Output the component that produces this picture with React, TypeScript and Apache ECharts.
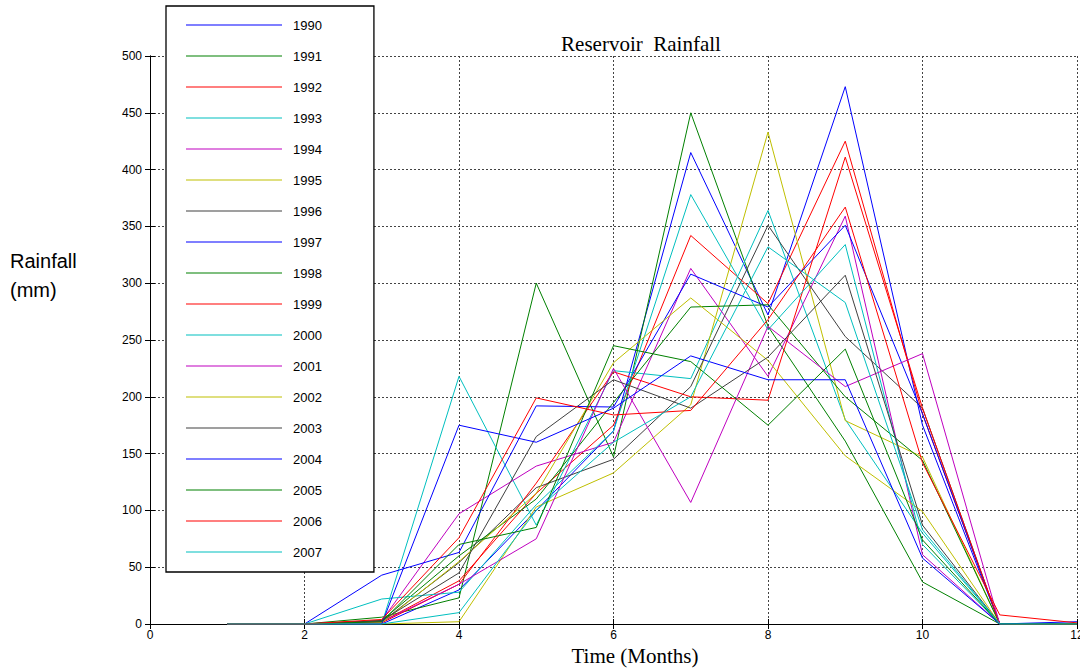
import React, { useEffect, useRef } from "react";
import * as echarts from "echarts";

const months = [1, 2, 3, 4, 5, 6, 7, 8, 9, 10, 11, 12];
const years = ["1990","1991","1992","1993","1994","1995","1996","1997","1998","1999","2000","2001","2002","2003","2004","2005","2006","2007"];
const xTicks = [0, 2, 4, 6, 8, 10, 12];
const yTicks = [0, 50, 100, 150, 200, 250, 300, 350, 400, 450, 500];

const r1990 = [0, 0, 0, 30, 100, 170, 415, 272, 473, 175, 0, 0];
const r1991 = [0, 0, 6, 23, 300, 147, 450, 262, 161, 37, 0, 0];
const r1992 = [0, 0, 2, 38, 115, 175, 342, 282, 425, 185, 0, 0];
const r1993 = [0, 0, 0, 218, 87, 223, 216, 364, 180, 80, 0, 0];
const r1994 = [0, 0, 3, 97, 139, 160, 313, 218, 359, 61, 0, 0];
const r1995 = [0, 0, 0, 2, 103, 133, 193, 433, 179, 147, 0, 0];
const r1996 = [0, 0, 2, 54, 120, 145, 209, 351, 253, 190, 0, 0];
const r1997 = [0, 0, 43, 63, 192, 191, 308, 279, 351, 185, 0, 0];
const r1998 = [0, 0, 3, 60, 110, 195, 279, 281, 200, 144, 0, 0];
const r1999 = [0, 0, 1, 35, 124, 222, 200, 197, 411, 190, 0, 0];
const r2000 = [0, 0, 22, 28, 105, 170, 378, 259, 334, 70, 0, 0];
const r2001 = [0, 0, 2, 35, 75, 225, 107, 262, 209, 238, 0, 0];
const r2002 = [0, 0, 1, 55, 115, 230, 287, 232, 148, 99, 0, 0];
const r2003 = [0, 0, 3, 45, 165, 215, 190, 235, 307, 87, 0, 0];
const r2004 = [0, 0, 0, 175, 160, 190, 236, 215, 215, 58, 0, 2];
const r2005 = [0, 0, 2, 70, 85, 245, 231, 175, 242, 74, 0, 0];
const r2006 = [0, 0, 4, 76, 199, 184, 188, 268, 367, 142, 8, 1];
const r2007 = [0, 0, 0, 10, 100, 160, 200, 332, 283, 83, 0, 0];

const allRain = [r1990, r1991, r1992, r1993, r1994, r1995, r1996, r1997, r1998, r1999, r2000, r2001, r2002, r2003, r2004, r2005, r2006, r2007];
const palette = ["#0000ff", "#008000", "#ff0000", "#00bfbf", "#bf00bf", "#bfbf00", "#404040"];

const SANS = "'Liberation Sans', Arial, sans-serif";
const SERIF = "'Liberation Serif', 'Times New Roman', serif";

export default function App() {
  const ref = useRef<HTMLDivElement>(null);
  useEffect(() => {
    if (!ref.current) return;
    const chart = echarts.init(ref.current, null, { renderer: "svg" });
    const series = years.map((y, i) => ({
      name: y,
      type: "line",
      data: months.map((m, j) => [m, allRain[i][j]]),
      symbol: "none",
      lineStyle: { width: 1, color: palette[i % 7] },
      itemStyle: { color: palette[i % 7] },
      z: 2,
    }));
    const axisCommon = {
      axisLine: { show: true, lineStyle: { color: "#000", width: 1 } },
      axisTick: { show: true, inside: true, length: 5, lineStyle: { color: "#000" } },
    };
    const gridLine = { show: true, lineStyle: { color: "#444", type: [2, 2], width: 1 } };
    chart.setOption({
      animation: false,
      backgroundColor: "#fff",
      grid: { left: 150, right: 3, top: 56, bottom: 44, show: false, outerBoundsMode: "none", containLabel: false },
      legend: {
        show: true,
        orient: "vertical",
        left: 166,
        top: 6,
        data: years,
        icon: "rect",
        itemWidth: 96,
        itemHeight: 1,
        itemGap: 17,
        itemTextGap: 10,
        padding: [12, 52, 13, 20],
        backgroundColor: "#fff",
        borderColor: "#000",
        borderWidth: 1.3,
        textStyle: { fontSize: 13, fontFamily: SANS, color: "#000", lineHeight: 14, padding: [0, 0, 0, 6] },
        selectedMode: false,
        z: 10,
      },
      xAxis: [
        {
          type: "value",
          min: 0,
          max: 12,
          interval: 2,
          ...axisCommon,
          axisLabel: { fontSize: 12, fontFamily: SANS, color: "#000", margin: 5,
            formatter: (v: number) => (xTicks.includes(v) ? String(v) : "") },
          splitLine: gridLine,
        },
        {
          type: "value",
          position: "top",
          min: 0,
          max: 12,
          interval: 2,
          ...axisCommon,
          axisLabel: { show: false },
          splitLine: { show: false },
        },
      ],
      yAxis: [
        {
          type: "value",
          min: 0,
          max: 500,
          interval: 50,
          ...axisCommon,
          axisLabel: { fontSize: 12, fontFamily: SANS, color: "#000", margin: 8,
            formatter: (v: number) => (yTicks.includes(v) ? String(v) : "") },
          splitLine: gridLine,
        },
        {
          type: "value",
          position: "right",
          min: 0,
          max: 500,
          interval: 50,
          ...axisCommon,
          axisLabel: { show: false },
          splitLine: { show: false },
        },
      ],
      graphic: [
        {
          type: "text",
          x: 641,
          y: 33,
          style: { text: "Reservoir  Rainfall", font: `21px ${SERIF}`, fill: "#000", textAlign: "center", textVerticalAlign: "top" },
        },
        {
          type: "text",
          x: 635,
          y: 645,
          style: { text: "Time (Months)", font: `21px ${SERIF}`, fill: "#000", textAlign: "center", textVerticalAlign: "top" },
        },
        {
          type: "text",
          x: 10,
          y: 246,
          style: { text: "Rainfall\n(mm)", font: `20px ${SANS}`, fill: "#000", textAlign: "left", textVerticalAlign: "top", lineHeight: 29 },
        },
      ],
      series,
    });
    return () => chart.dispose();
  }, []);
  return <div ref={ref} style={{ position: "fixed", left: 0, top: 0, width: 1080, height: 668 }} />;
}
